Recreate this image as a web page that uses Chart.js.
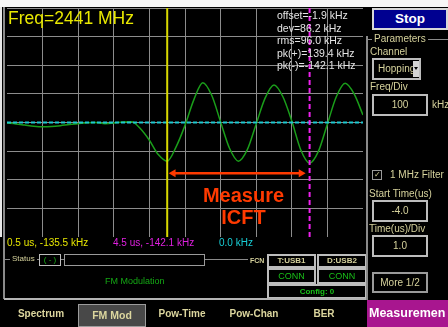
<!DOCTYPE html>
<html>
<head>
<meta charset="utf-8">
<script src="https://cdn.jsdelivr.net/npm/chart.js@4.4.0/dist/chart.umd.min.js"></script>
<style>
  html, body { margin: 0; padding: 0; background: #000; overflow: hidden; }
  body { width: 448px; height: 327px; position: relative; font-family: "Liberation Sans", Arial, sans-serif; }
  .abs { position: absolute; white-space: nowrap; }
  .kh { color: #d6d29c; }
  .box { position: absolute; box-sizing: border-box; border: 2px solid #bdbdbd; background: #000; text-align: center; }
  .tab { position: absolute; top: 300px; height: 27px; line-height: 27px; font-size: 10px; font-weight: bold; color: #dcd69e; text-align: center; }
</style>
</head>
<body>
  <!-- top white band and left frame -->
  <div class="abs" style="left:0;top:0;width:448px;height:7px;background:#f7f7f7"></div>
  <div class="abs" style="left:0;top:7px;width:2px;height:230px;background:#e8e8e8"></div>
  <div class="abs" style="left:3px;top:7px;width:2px;height:292px;background:#8a8a8a"></div>

  <div class="abs" style="left:7px;top:8px;width:356px;height:229px">
    <canvas id="scope" width="356" height="229"></canvas>
  </div>

  <div class="abs" style="left:8px;top:8px;font-size:17.5px;line-height:20px;color:#e8e800">Freq=2441 MHz</div>
  <div class="abs" style="left:277px;top:9px;font-size:10.5px;line-height:12.5px;color:#e4e4e4">
    offset=-1.9 kHz<br>dev=86.2 kHz<br>rms=96.0 kHz<br>pk(+)=139.4 kHz<br>pk(-)=-142.1 kHz
  </div>

  <div class="abs" style="left:183px;top:184px;width:121px;text-align:center;font-size:20px;line-height:22px;font-weight:bold;color:#ff3a00">Measure</div>
  <div class="abs" style="left:183px;top:206px;width:121px;text-align:center;font-size:20px;line-height:22px;font-weight:bold;color:#ff3a00">ICFT</div>

  <!-- cursor readouts -->
  <div class="abs" style="left:7px;top:237px;font-size:10px;line-height:12px;color:#e6e600">0.5 us, -135.5 kHz</div>
  <div class="abs" style="left:113px;top:237px;font-size:10px;line-height:12px;color:#e020e0">4.5 us, -142.1 kHz</div>
  <div class="abs" style="left:219px;top:237px;font-size:10px;line-height:12px;color:#18d0d8">0.0 kHz</div>

  <!-- status group -->
  <div class="abs" style="left:4px;top:259px;width:262px;height:1px;background:#8a8a8a"></div>
  <div class="abs kh" style="left:10px;top:253px;padding:0 2px;background:#000;font-size:8px;line-height:11px">Status</div>
  <div class="box" style="left:39px;top:254px;width:22px;height:12px;border-width:1px;color:#18b018;font-size:8px;line-height:10px">( - )</div>
  <div class="box" style="left:64px;top:254px;width:141px;height:12px;border-width:1px;border-color:#9a9a9a"></div>
  <div class="abs" style="left:105px;top:275px;font-size:9px;line-height:12px;color:#14a814">FM Modulation</div>
  <div class="abs kh" style="left:248px;top:256px;padding:0 2px;background:#000;font-size:7px;line-height:9px;font-weight:bold">FCN</div>

  <div class="box kh" style="left:267px;top:254px;width:49px;height:14px;font-size:8px;line-height:10px;font-weight:bold">T:USB1</div>
  <div class="box kh" style="left:317px;top:254px;width:50px;height:14px;font-size:8px;line-height:10px;font-weight:bold">D:USB2</div>
  <div class="box" style="left:267px;top:268px;width:49px;height:16px;color:#18c018;font-size:9px;line-height:12px">CONN</div>
  <div class="box" style="left:317px;top:268px;width:50px;height:16px;color:#18c018;font-size:9px;line-height:12px">CONN</div>
  <div class="box" style="left:267px;top:284px;width:100px;height:15px;color:#18c018;font-size:8px;line-height:11px;font-weight:bold">Config: 0</div>

  <!-- separators -->
  <div class="abs" style="left:4px;top:298px;width:364px;height:2px;background:#b4b4b4"></div>
  <div class="abs" style="left:366px;top:36px;width:2px;height:264px;background:#8a8a8a"></div>

  <!-- right panel -->
  <div class="box" style="left:372px;top:8px;width:76px;height:22px;background:#000090;border-color:#d8d8d8;color:#fff;font-size:13.5px;font-weight:bold;line-height:18px">Stop</div>
  <div class="abs" style="left:366px;top:39px;width:82px;height:1px;background:#8a8a8a"></div>
  <div class="abs kh" style="left:372px;top:33px;padding:0 2px;background:#000;font-size:10px;line-height:12px">Parameters</div>
  <div class="abs kh" style="left:370px;top:46px;font-size:10px;line-height:12px">Channel</div>
  <div class="box kh" style="left:372px;top:58px;width:49px;height:22px;text-align:left;padding-left:4px;font-size:10px;line-height:18px">Hopping</div>
  <div class="abs" style="left:413px;top:61px;width:6px;height:16px;background:#d4d4d4"></div>
  <div class="abs" style="left:414px;top:67px;width:0;height:0;border-left:2px solid transparent;border-right:2px solid transparent;border-top:3px solid #000"></div>
  <div class="abs kh" style="left:370px;top:81px;font-size:10px;line-height:12px">Freq/Div</div>
  <div class="box kh" style="left:372px;top:94px;width:56px;height:22px;font-size:10px;line-height:18px">100</div>
  <div class="abs kh" style="left:432px;top:99px;font-size:10px;line-height:12px">kHz</div>

  <div class="box" style="left:372px;top:170px;width:10px;height:10px;border-width:1px;border-color:#9a9a9a;color:#d6d29c;font-size:8px;line-height:8px">&#10003;</div>
  <div class="abs kh" style="left:390px;top:169px;font-size:10px;line-height:12px">1 MHz Filter</div>
  <div class="abs kh" style="left:369px;top:188px;font-size:10px;line-height:12px">Start Time(us)</div>
  <div class="box kh" style="left:372px;top:200px;width:56px;height:22px;font-size:10px;line-height:18px">-4.0</div>
  <div class="abs kh" style="left:369px;top:223px;font-size:10px;line-height:12px">Time(us)/Div</div>
  <div class="box kh" style="left:372px;top:235px;width:56px;height:22px;font-size:10px;line-height:18px">1.0</div>
  <div class="box kh" style="left:372px;top:272px;width:56px;height:21px;border-color:#9a9a9a;font-size:10px;line-height:17px">More 1/2</div>

  <!-- tab bar -->
  <div class="tab" style="left:10px;width:62px">Spectrum</div>
  <div class="box" style="left:78px;top:304px;width:68px;height:23px;background:#484848;border-color:#9c9c9c;border-width:1px;color:#dcd69e;font-size:10.5px;font-weight:bold;line-height:21px">FM Mod</div>
  <div class="tab" style="left:150px;width:64px">Pow-Time</div>
  <div class="tab" style="left:222px;width:64px">Pow-Chan</div>
  <div class="tab" style="left:304px;width:40px">BER</div>
  <div class="abs" style="left:367px;top:300px;width:81px;height:27px;background:#a8168f;overflow:hidden">
    <div class="abs" style="left:2px;top:0;font-size:12.5px;line-height:27px;font-weight:bold;color:#fff">Measuremen</div>
  </div>

<script>
// demodulated FM trace, time in us, deviation in kHz
const traceTimes = [-4, -3.75, -3.5, -3.25, -3, -2.75, -2.5, -2.25, -2, -1.75, -1.5, -1.25, -1, -0.75, -0.5, -0.25,
  0, 0.25, 0.5, 0.75, 1, 1.25, 1.5, 1.75, 2, 2.25, 2.5, 2.75, 3, 3.25, 3.5, 3.75, 4, 4.25, 4.5, 4.75, 5, 5.25, 5.5, 5.75, 6];
const traceKHz = [-2, -5, -9, -13, -15, -14, -11, -7, -4, -1, 0, -4, -2, 2, 3, -22,
  -62, -112, -135, -85, -10, 80, 139, 95, 2, -90, -135, -95, -5, 85, 131, 90, 5, -95, -142, -100, -5, 90, 137, 100, 26];

// cursors (us) and the ICFT arrow span
const cursorTimes = [0.5, 4.5];
const arrowTimes = [0.67, 4.26];
const arrowKHz = -177;

const timeRange = [-4, 6];
const freqRange = [-400, 400];

const gridColor = "#8c8c8c";

function vline(t) {
  return [{ x: t, y: freqRange[0] }, { x: t, y: freqRange[1] }];
}

new Chart(document.getElementById("scope"), {
  type: "line",
  data: {
    datasets: [
      {
        data: [{ x: arrowTimes[0], y: arrowKHz }, { x: arrowTimes[1], y: arrowKHz }],
        borderColor: "#ff3a00",
        backgroundColor: "#ff3a00",
        borderWidth: 2.5,
        pointStyle: "triangle",
        pointRadius: 4.6,
        pointBorderWidth: 0,
        pointRotation: (ctx) => (ctx.dataIndex === 0 ? -90 : 90),
        order: 0,
      },
      {
        data: vline(cursorTimes[0]),
        borderColor: "#d8d800",
        borderWidth: 2,
        pointRadius: 0,
        order: 1,
      },
      {
        data: vline(cursorTimes[1]),
        borderColor: "#f020f0",
        borderWidth: 2,
        borderDash: [5, 3],
        pointRadius: 0,
        order: 1,
      },
      {
        data: [{ x: timeRange[0], y: 0 }, { x: timeRange[1], y: 0 }],
        borderColor: "#1cc8d0",
        borderWidth: 2,
        borderDash: [4, 2],
        pointRadius: 0,
        order: 2,
      },
      {
        data: traceTimes.map((t, i) => ({ x: t, y: traceKHz[i] })),
        borderColor: "#1a9e1a",
        borderWidth: 1.5,
        pointRadius: 0,
        cubicInterpolationMode: "monotone",
        order: 3,
      },
    ],
  },
  options: {
    responsive: false,
    animation: false,
    layout: { padding: 0, autoPadding: false },
    plugins: { legend: { display: false }, tooltip: { enabled: false } },
    scales: {
      x: {
        type: "linear",
        min: timeRange[0],
        max: timeRange[1],
        ticks: { display: false, stepSize: 1 },
        grid: {
          drawTicks: false,
          color: (ctx) => (ctx.tick && ctx.tick.value === timeRange[0] ? "rgba(0,0,0,0)" : gridColor),
        },
        border: { display: false },
      },
      y: {
        type: "linear",
        min: freqRange[0],
        max: freqRange[1],
        ticks: { display: false, stepSize: 100 },
        grid: { drawTicks: false, color: gridColor },
        border: { display: false },
      },
    },
  },
});
</script>
</body>
</html>
